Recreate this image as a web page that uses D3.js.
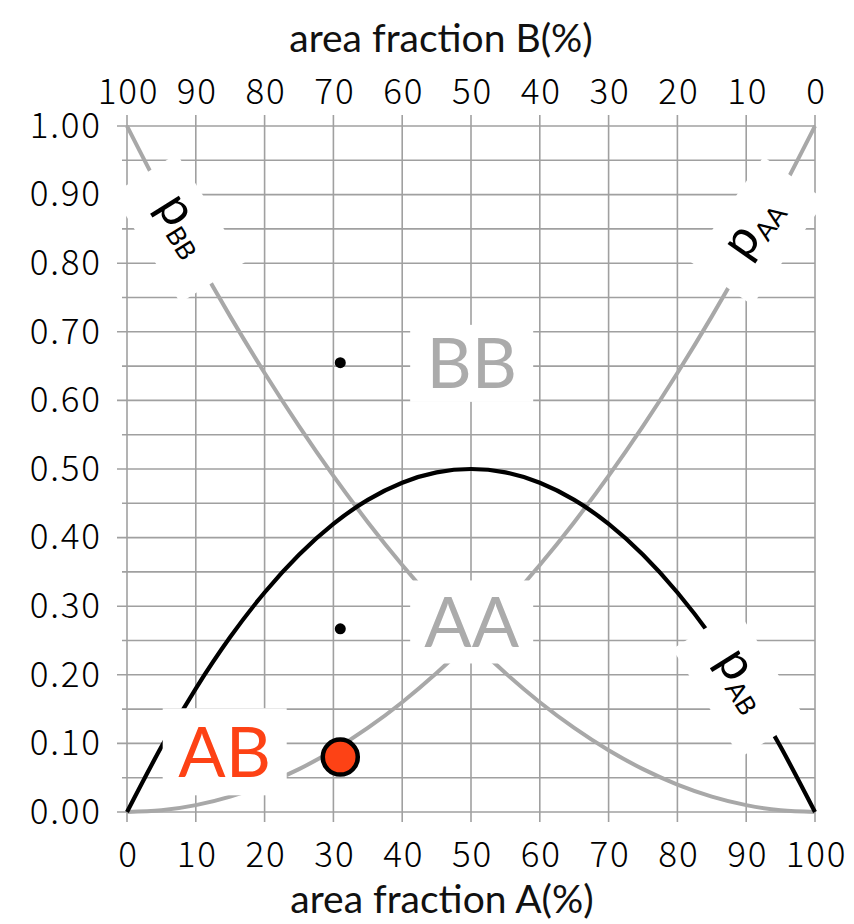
<!DOCTYPE html>
<html>
<head>
<meta charset="utf-8">
<script src="https://cdn.jsdelivr.net/npm/d3@7"></script>
<style>
  html, body { margin: 0; padding: 0; background: #fff; }
  svg { display: block; }
  .tick text { font-family: "Noto Sans CJK JP", "Noto Sans", sans-serif; font-weight: 300; fill: #000; letter-spacing: 1.8px; }
</style>
</head>
<body>
<svg id="chart" width="854" height="924"></svg>
<script>
// Area fraction of phase A (%) at which the curves are sampled
const fractionA = [0, 5, 10, 15, 20, 25, 30, 35, 40, 45, 50, 55, 60, 65, 70, 75, 80, 85, 90, 95, 100];
// Probabilities of AA, BB and AB neighbour pairs
const pAA = [0, 0.0025, 0.01, 0.0225, 0.04, 0.0625, 0.09, 0.1225, 0.16, 0.2025, 0.25, 0.3025, 0.36, 0.4225, 0.49, 0.5625, 0.64, 0.7225, 0.81, 0.9025, 1];
const pBB = [1, 0.9025, 0.81, 0.7225, 0.64, 0.5625, 0.49, 0.4225, 0.36, 0.3025, 0.25, 0.2025, 0.16, 0.1225, 0.09, 0.0625, 0.04, 0.0225, 0.01, 0.0025, 0];
const pAB = [0, 0.095, 0.18, 0.255, 0.32, 0.375, 0.42, 0.455, 0.48, 0.495, 0.5, 0.495, 0.48, 0.455, 0.42, 0.375, 0.32, 0.255, 0.18, 0.095, 0];

// Tick labels
const xTicks = [0, 10, 20, 30, 40, 50, 60, 70, 80, 90, 100];
const xTopTicks = [100, 90, 80, 70, 60, 50, 40, 30, 20, 10, 0];
const yTicks = [0, 0.1, 0.2, 0.3, 0.4, 0.5, 0.6, 0.7, 0.8, 0.9, 1.0];
const yGrid = [0, 0.05, 0.1, 0.15, 0.2, 0.25, 0.3, 0.35, 0.4, 0.45, 0.5, 0.55, 0.6, 0.65, 0.7, 0.75, 0.8, 0.85, 0.9, 0.95, 1.0];

// Sample markers: label dots for BB and AA, and the highlighted AB point
const markerX = [31, 31];
const markerY = [0.655, 0.267];
const pointAB = { x: 31, y: 0.08 };

const svg = d3.select("#chart");
const plotL = 127, plotR = 815, plotT = 126, plotB = 812;

const x = d3.scaleLinear().domain([0, 100]).range([plotL, plotR]);
const xTop = d3.scaleLinear().domain([100, 0]).range([plotL, plotR]);
const y = d3.scaleLinear().domain([0, 1]).range([plotB, plotT]);

const gridColor = "#a0a0a0";
const curveGray = "#a8a8a8";
const labelGray = "#ababab";
const red = "#fd4215";

// Grid: vertical lines every 10 %, extending past the frame as ticks
const grid = svg.append("g");
grid.selectAll("line.v").data(xTicks).join("line")
  .attr("x1", d => x(d)).attr("x2", d => x(d))
  .attr("y1", plotT - 11).attr("y2", plotB + 10)
  .attr("stroke", gridColor).attr("stroke-width", 1.6);
// Horizontal lines every 0.05, longer ticks on the labelled ones
grid.selectAll("line.h").data(yGrid).join("line")
  .attr("x1", (d, i) => i % 2 === 0 ? plotL - 10 : plotL - 5)
  .attr("x2", plotR)
  .attr("y1", d => y(d)).attr("y2", d => y(d))
  .attr("stroke", gridColor).attr("stroke-width", 1.6);

// Axes (labels only)
const fmtY = d3.format(".2f");
const axB = svg.append("g").attr("transform", `translate(0,${plotB})`)
  .call(d3.axisBottom(x).tickValues(xTicks).tickSize(0).tickPadding(30));
const axT = svg.append("g").attr("transform", `translate(0,${plotT})`)
  .call(d3.axisTop(xTop).tickValues(xTopTicks).tickSize(0).tickPadding(22));
const axL = svg.append("g").attr("transform", `translate(${plotL},0)`)
  .call(d3.axisLeft(y).tickValues(yTicks).tickFormat(fmtY).tickSize(0).tickPadding(27));
[axB, axT, axL].forEach(g => {
  g.select(".domain").remove();
  g.selectAll(".tick text").attr("font-size", 35);
});
// letter-spacing adds trailing space; shift labels to stay centred / right-aligned
axB.selectAll(".tick text").attr("dx", 1);
axT.selectAll(".tick text").attr("dx", 1);
axL.selectAll(".tick text").attr("dx", 1.8);

// Curves
const rows = fractionA.map((a, i) => ({ a, aa: pAA[i], bb: pBB[i], ab: pAB[i] }));
const line = key => d3.line().x(d => x(d.a)).y(d => y(d[key])).curve(d3.curveNatural);
svg.append("path").datum(rows).attr("d", line("bb"))
  .attr("fill", "none").attr("stroke", curveGray).attr("stroke-width", 4);
svg.append("path").datum(rows).attr("d", line("aa"))
  .attr("fill", "none").attr("stroke", curveGray).attr("stroke-width", 4);
svg.append("path").datum(rows).attr("d", line("ab"))
  .attr("fill", "none").attr("stroke", "#000").attr("stroke-width", 4.2);

// Small black markers
svg.selectAll("circle.mk").data(markerX).join("circle")
  .attr("cx", d => x(d)).attr("cy", (d, i) => y(markerY[i])).attr("r", 5.5).attr("fill", "#000");

// Big phase labels on white boxes
function boxLabel(cx, cy, w, h, text, color) {
  const g = svg.append("g").attr("transform", `translate(${x(cx)},${y(cy)})`);
  g.append("rect").attr("x", -w / 2).attr("y", -h / 2).attr("width", w).attr("height", h).attr("fill", "#fff");
  g.append("text").text(text)
    .attr("text-anchor", "middle").attr("y", 25)
    .attr("font-family", "Lato, 'Open Sans', sans-serif").attr("font-size", 70)
    .attr("fill", color);
  return g;
}
boxLabel(50.1, 0.654, 123, 77, "BB", labelGray);
boxLabel(50.1, 0.277, 123, 83, "AA", labelGray);

// Rotated probability labels: p with a subscript pair
function probLabel(cx, cy, angle, sub) {
  const g = svg.append("g").attr("transform", `translate(${x(cx)},${y(cy)}) rotate(${angle})`);
  g.append("rect").attr("x", -64).attr("y", -38).attr("width", 128).attr("height", 76).attr("fill", "#fff");
  const t = g.append("text").attr("text-anchor", "middle").attr("y", 8)
    .attr("font-family", "Lato, 'Open Sans', sans-serif").attr("fill", "#000");
  t.append("tspan").text("p").attr("font-size", 50);
  t.append("tspan").text(sub).attr("font-size", 26).attr("dy", 7);
  return g;
}
probLabel(7.5, 0.851, 58, "BB");
probLabel(91.7, 0.847, -55, "AA");
probLabel(88.9, 0.188, 58, "AB");

// AB label and its highlighted point
const abG = svg.append("g").attr("transform", `translate(${x(14.2)},${y(0.087)})`);
abG.append("rect").attr("x", -62).attr("y", -44).attr("width", 124).attr("height", 87).attr("fill", "#fff");
abG.append("text").text("AB").attr("text-anchor", "middle").attr("y", 25)
  .attr("font-family", "Lato, 'Open Sans', sans-serif").attr("font-size", 70).attr("fill", red);

svg.append("circle").attr("cx", x(pointAB.x)).attr("cy", y(pointAB.y)).attr("r", 17.5)
  .attr("fill", red).attr("stroke", "#000").attr("stroke-width", 4.5);

// Axis titles
const titleFont = "Lato, 'Open Sans', sans-serif";
svg.append("text").text("area fraction B(%)")
  .attr("x", 441).attr("y", 52).attr("text-anchor", "middle")
  .attr("font-family", titleFont).attr("font-size", 39).attr("fill", "#111");
svg.append("text").text("area fraction A(%)")
  .attr("x", 442).attr("y", 913).attr("text-anchor", "middle")
  .attr("font-family", titleFont).attr("font-size", 39).attr("fill", "#111");
</script>
</body>
</html>
